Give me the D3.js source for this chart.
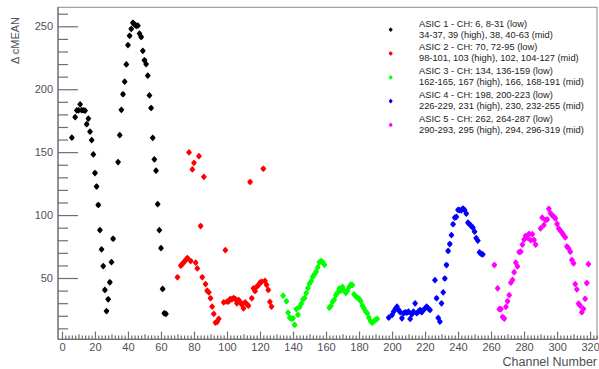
<!DOCTYPE html>
<html>
<head>
<meta charset="utf-8">
<script src="https://cdn.jsdelivr.net/npm/d3@7"></script>
<style>
  html, body { margin: 0; padding: 0; background: #fff; }
  svg { display: block; font-family: "Liberation Sans", Arial, Helvetica, sans-serif; }
</style>
</head>
<body>
<svg id="chart" width="599" height="369"></svg>
<script>
// Channel groups per ASIC, as listed in the legend
function span(a, b) { const r = []; for (let c = a; c <= b; c++) r.push(c); return r; }

const asic1Channels = [6, ...span(8, 31), ...span(34, 63)];
const asic1Values = [161.5,
  177.8, 183.2, 183.2, 188.0, 183.3, 183.3, 183.0, 172.2, 176.7, 166.3, 159.5, 148.2,
  133.4, 122.7, 108.0, 88.1, 72.8, 59.5, 40.5, 23.7, 33.1, 46.6, 62.6, 81.2,
  142.1, 163.5, 183.6, 196.0, 206.0, 219.7, 235.0, 242.5, 248.0, 252.8, 251.5, 250.3,
  250.5, 244.2, 241.5, 230.5, 223.0, 220.0, 210.8, 195.1, 185.1, 161.4, 144.3, 135.3,
  108.7, 88.0, 73.7, 41.3, 22.0, 21.5];

const asic2Channels = [70, ...span(72, 95), ...span(98, 127)];
const asic2Values = [50.6,
  59.8, 61.1, 62.7, 64.3, 65.9, 149.8, 63.5, 136.3, 141.5, 62.2, 57.6, 146.8,
  91.3, 50.6, 130.4, 45.2, 39.9, 38.6, 33.9, 27.3, 21.5, 14.6, 15.1, 17.5,
  30.7, 72.2, 31.2, 31.5, 33.3, 33.0, 34.1, 33.3, 29.9, 32.5, 31.0, 28.8,
  25.9, 30.7, 29.1, 28.0, 126.3, 33.9, 41.8, 39.7, 43.2, 44.2, 46.3, 47.0,
  136.8, 47.7, 44.5, 40.5, 31.0, 27.3];

const asic3Channels = [134, ...span(136, 159), ...span(162, 191)];
const asic3Values = [36.0,
  31.5, 22.5, 18.5, 17.5, 18.0, 12.7, 25.3, 20.8, 27.0, 29.5, 33.0, 34.0,
  38.0, 42.0, 45.5, 47.5, 51.0, 53.0, 55.0, 58.5, 62.5, 63.5, 62.5, 60.5,
  26.5, 27.8, 31.2, 32.8, 36.5, 38.5, 41.5, 39.8, 43.0, 40.0, 38.2, 40.0,
  42.8, 44.8, 44.4, 37.0, 35.5, 34.3, 33.5, 31.6, 28.0, 26.0, 23.5, 22.0,
  18.4, 15.8, 14.5, 15.5, 16.8, 17.5];

const asic4Channels = [198, ...span(200, 223), ...span(226, 255)];
const asic4Values = [18.5,
  20.6, 23.3, 25.4, 27.2, 24.6, 22.8, 18.0, 22.0, 22.8, 22.5, 23.3, 17.5,
  21.2, 23.3, 29.9, 22.0, 23.3, 24.6, 22.8, 24.6, 25.9, 27.2, 25.9, 24.6,
  48.3, 33.9, 18.3, 15.3, 29.9, 38.6, 49.6, 60.3, 71.5, 77.0, 84.1, 92.7,
  98.0, 98.6, 104.1, 104.0, 103.8, 105.2, 103.9, 101.2, 94.0, 92.7, 91.3, 90.0,
  86.8, 81.7, 79.7, 70.4, 69.2, 68.8];

const asic5Channels = [262, ...span(264, 287), ...span(290, 319)];
const asic5Values = [60.3,
  41.8, 25.3, 25.3, 19.0, 17.8, 27.1, 31.5, 36.4, 46.3, 48.5, 54.6, 62.2,
  59.2, 70.6, 71.0, 76.5, 80.5, 83.5, 82.0, 85.0, 80.0, 84.8, 80.2, 76.5,
  89.4, 98.0, 92.0, 96.0, 96.5, 105.0, 101.5, 100.0, 98.8, 97.3, 93.0, 89.4,
  87.6, 86.0, 84.0, 82.3, 75.0, 73.6, 70.9, 64.3, 61.7, 45.2, 41.0, 29.7,
  28.0, 22.8, 25.5, 33.5, 46.0, 61.0];

const seriesColors = ["#000000", "#ff0000", "#00ff00", "#0000ff", "#ff00ff"];
const legendLines = [
  ["ASIC 1 - CH: 6, 8-31 (low)", "34-37, 39 (high), 38, 40-63 (mid)"],
  ["ASIC 2 - CH: 70, 72-95 (low)", "98-101, 103 (high), 102, 104-127 (mid)"],
  ["ASIC 3 - CH: 134, 136-159 (low)", "162-165, 167 (high), 166, 168-191 (mid)"],
  ["ASIC 4 - CH: 198, 200-223 (low)", "226-229, 231 (high), 230, 232-255 (mid)"],
  ["ASIC 5 - CH: 262, 264-287 (low)", "290-293, 295 (high), 294, 296-319 (mid)"]
];
const xMajorTicks = d3.range(0, 321, 20);
const yMajorTicks = [50, 100, 150, 200, 250];
const xTitle = "Channel Number";
const yTitle = "\u0394 cMEAN";

const channelSets = [asic1Channels, asic2Channels, asic3Channels, asic4Channels, asic5Channels];
const valueSets = [asic1Values, asic2Values, asic3Values, asic4Values, asic5Values];

// Frame geometry
const frame = { left: 58, right: 597, top: 7.3, bottom: 339.3 };
const svg = d3.select("#chart");

const x = d3.scaleLinear().domain([-2.4, 324.2]).range([frame.left, frame.right]);
const y = d3.scaleLinear().domain([1.3, 265.1]).range([frame.bottom, frame.top]);

const axisColor = "#6e6e6e";
const labelColor = "#4f4f58";

// Frame box
svg.append("rect")
  .attr("x", frame.left).attr("y", frame.top)
  .attr("width", frame.right - frame.left).attr("height", frame.bottom - frame.top)
  .attr("fill", "none").attr("stroke", "#8a8a8a").attr("stroke-width", 1);

// Y axis: major ticks with labels, minor every 10
const yMinor = d3.range(10, 261, 10).filter(v => v % 50 !== 0);
const yAxisMinor = svg.append("g").attr("transform", `translate(${frame.left},0)`)
  .call(d3.axisLeft(y).tickValues(yMinor).tickSizeInner(-10).tickSizeOuter(0).tickFormat(""));
const yAxisMajor = svg.append("g").attr("transform", `translate(${frame.left},0)`)
  .call(d3.axisLeft(y).tickValues(yMajorTicks).tickSizeInner(-20).tickSizeOuter(0).tickPadding(5));

// X axis: major every 20, medium every 10, minor every 2
const xMinor = d3.range(0, 325, 2).filter(v => v % 10 !== 0);
const xMid = d3.range(10, 325, 20);
const xAxisMinor = svg.append("g").attr("transform", `translate(0,${frame.bottom})`)
  .call(d3.axisBottom(x).tickValues(xMinor).tickSizeInner(-3.9).tickSizeOuter(0).tickFormat(""));
const xAxisMid = svg.append("g").attr("transform", `translate(0,${frame.bottom})`)
  .call(d3.axisBottom(x).tickValues(xMid).tickSizeInner(-5).tickSizeOuter(0).tickFormat(""));
const xAxisMajor = svg.append("g").attr("transform", `translate(0,${frame.bottom})`)
  .call(d3.axisBottom(x).tickValues(xMajorTicks).tickSizeInner(-7.7).tickSizeOuter(0).tickPadding(3.6));

[yAxisMinor, yAxisMajor, xAxisMinor, xAxisMid, xAxisMajor].forEach(g => {
  g.select(".domain").remove();
  g.selectAll(".tick line").attr("stroke", axisColor).attr("stroke-width", 1.2);
  g.selectAll(".tick text").attr("fill", labelColor).attr("font-size", 11)
    .attr("font-family", "Liberation Sans, Arial, sans-serif");
});

// Axis line along the frame edges
svg.append("line").attr("x1", frame.left).attr("x2", frame.left)
  .attr("y1", frame.top).attr("y2", frame.bottom).attr("stroke", axisColor).attr("stroke-width", 1.2);
svg.append("line").attr("x1", frame.left).attr("x2", frame.right)
  .attr("y1", frame.bottom).attr("y2", frame.bottom).attr("stroke", axisColor).attr("stroke-width", 1.2);

// Axis titles
svg.append("text")
  .attr("transform", `translate(18.5,17) rotate(-90)`)
  .attr("text-anchor", "end")
  .attr("font-size", 11).attr("fill", labelColor)
  .text(yTitle);
svg.append("text")
  .attr("x", frame.right).attr("y", 366)
  .attr("text-anchor", "end")
  .attr("font-size", 12.5).attr("fill", labelColor)
  .text(xTitle);

// Marker: small rounded four-pointed diamond
function markerPath(s) {
  const a = 3.1 * s, b = 2.7 * s, c = 1.55 * s;
  return `M0,${-a}L${c},${-c}L${b},0L${c},${c}L0,${a}L${-c},${c}L${-b},0L${-c},${-c}Z`;
}

// Data points
channelSets.forEach((chs, i) => {
  const pts = chs.map((ch, k) => ({ ch, v: valueSets[i][k] }));
  svg.append("g").attr("class", "series-" + (i + 1))
    .selectAll("path").data(pts).join("path")
    .attr("d", markerPath(1.08))
    .attr("transform", d => `translate(${x(d.ch)},${y(d.v)})`)
    .attr("fill", seriesColors[i]);
});

// Legend
const legend = svg.append("g").attr("class", "legend");
legendLines.forEach((lines, i) => {
  const my = 29.7 + i * 23.8;
  legend.append("path")
    .attr("d", markerPath(0.75))
    .attr("transform", `translate(390.7,${my})`)
    .attr("fill", seriesColors[i]);
  legend.append("text").attr("x", 419).attr("y", my - 3.1)
    .attr("font-size", 9.3).attr("fill", "#222").text(lines[0]);
  legend.append("text").attr("x", 419).attr("y", my + 7.9)
    .attr("font-size", 9.3).attr("fill", "#222").text(lines[1]);
});
</script>
</body>
</html>
